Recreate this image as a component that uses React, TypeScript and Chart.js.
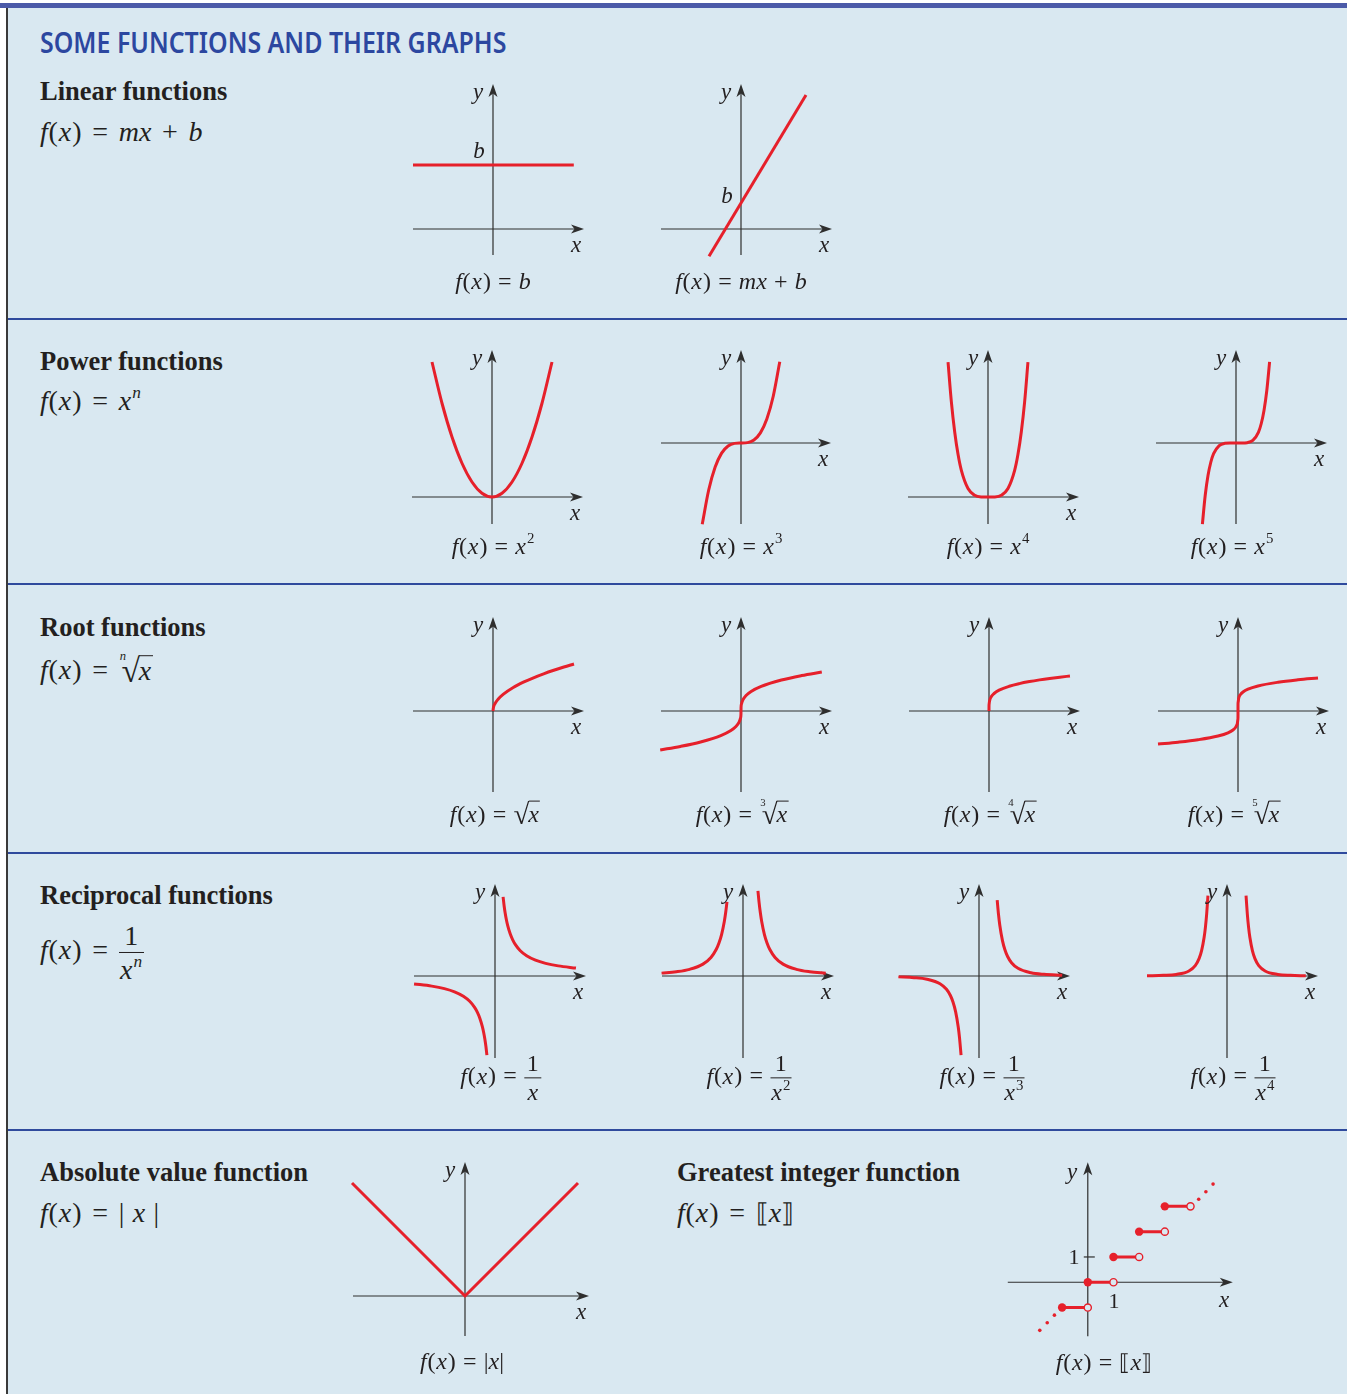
import React, { useEffect, useLayoutEffect, useRef } from 'react';
import { Chart, registerables } from 'chart.js';

Chart.register(...registerables);

const RED = '#e6202b';
const AXIS = '#2e2e2e';
const BG = '#d9e8f1';
const SERIF = '"Liberation Serif", "Times New Roman", serif';
const INK = '#231f20';

// ---------- data (function values) ----------
const LIN_CONST_X = [-2, 2.02];
const LIN_CONST_Y = [1.6, 1.6];
const LIN_SLOPE_X = [-0.8, 1.625];
const LIN_SLOPE_Y = [-0.68, 3.35];

const POW2_X = [-1.5, -1.25, -1, -0.75, -0.5, -0.25, 0, 0.25, 0.5, 0.75, 1, 1.25, 1.5];
const POW2_Y = [2.25, 1.5625, 1, 0.5625, 0.25, 0.0625, 0, 0.0625, 0.25, 0.5625, 1, 1.5625, 2.25];
const POW3_X = [-1.2, -1, -0.8, -0.6, -0.4, -0.2, 0, 0.2, 0.4, 0.6, 0.8, 1, 1.2];
const POW3_Y = [-1.728, -1, -0.512, -0.216, -0.064, -0.008, 0, 0.008, 0.064, 0.216, 0.512, 1, 1.728];
const POW4_X = [-1.2, -1.1, -1, -0.9, -0.8, -0.6, -0.4, -0.2, 0, 0.2, 0.4, 0.6, 0.8, 0.9, 1, 1.1, 1.2];
const POW4_Y = [2.0736, 1.4641, 1, 0.6561, 0.4096, 0.1296, 0.0256, 0.0016, 0, 0.0016, 0.0256, 0.1296, 0.4096, 0.6561, 1, 1.4641, 2.0736];
const POW5_X = [-1.2, -1.1, -1, -0.9, -0.8, -0.6, -0.4, -0.2, 0, 0.2, 0.4, 0.6, 0.8, 0.9, 1, 1.1, 1.2];
const POW5_Y = [-2.48832, -1.61051, -1, -0.59049, -0.32768, -0.07776, -0.01024, -0.00032, 0, 0.00032, 0.01024, 0.07776, 0.32768, 0.59049, 1, 1.61051, 2.48832];

const ROOT2_X = [0, 0.02, 0.1, 0.25, 0.5, 1, 1.5, 2, 2.5, 3, 3.5, 4];
const ROOT2_Y = [0, 0.1414, 0.3162, 0.5, 0.7071, 1, 1.2247, 1.4142, 1.5811, 1.7321, 1.8708, 2];
const ROOT3_X = [-8, -6, -4, -2, -1, -0.5, -0.2, -0.05, -0.005, 0, 0.005, 0.05, 0.2, 0.5, 1, 2, 4, 6, 8];
const ROOT3_Y = [-2, -1.8171, -1.5874, -1.2599, -1, -0.7937, -0.5848, -0.3684, -0.171, 0, 0.171, 0.3684, 0.5848, 0.7937, 1, 1.2599, 1.5874, 1.8171, 2];
const ROOT4_X = [0, 0.002, 0.02, 0.1, 0.5, 1, 2, 4, 6, 8, 10, 12, 14, 16];
const ROOT4_Y = [0, 0.2115, 0.3761, 0.5623, 0.8409, 1, 1.1892, 1.4142, 1.5651, 1.6818, 1.7783, 1.8612, 1.9343, 2];
const ROOT5_X = [-32, -24, -16, -8, -4, -2, -1, -0.3, -0.03, -0.001, 0, 0.001, 0.03, 0.3, 1, 2, 4, 8, 16, 24, 32];
const ROOT5_Y = [-2, -1.888, -1.7411, -1.5157, -1.3195, -1.1487, -1, -0.786, -0.4959, -0.2512, 0, 0.2512, 0.4959, 0.786, 1, 1.1487, 1.3195, 1.5157, 1.7411, 1.888, 2];

const REC1_XR = [0.32, 0.36, 0.4, 0.45, 0.5, 0.6, 0.7, 0.8, 1, 1.25, 1.6, 2, 2.5, 3.2];
const REC1_YR = [3.125, 2.778, 2.5, 2.222, 2, 1.667, 1.429, 1.25, 1, 0.8, 0.625, 0.5, 0.4, 0.3125];
const REC1_XL = [-3.2, -2.5, -2, -1.6, -1.25, -1, -0.8, -0.7, -0.6, -0.5, -0.45, -0.4, -0.36, -0.32];
const REC1_YL = [-0.3125, -0.4, -0.5, -0.625, -0.8, -1, -1.25, -1.429, -1.667, -2, -2.222, -2.5, -2.778, -3.125];
const REC2_XR = [0.56, 0.6, 0.65, 0.7, 0.8, 0.9, 1, 1.2, 1.5, 2, 2.5, 3.1];
const REC2_YR = [3.189, 2.778, 2.367, 2.041, 1.5625, 1.2346, 1, 0.6944, 0.4444, 0.25, 0.16, 0.1041];
const REC2_XL = [-3.05, -2.5, -2, -1.5, -1.2, -1, -0.9, -0.8, -0.7, -0.65, -0.6];
const REC2_YL = [0.1075, 0.16, 0.25, 0.4444, 0.6944, 1, 1.2346, 1.5625, 2.041, 2.367, 2.778];
const REC3_XR = [0.7, 0.75, 0.8, 0.9, 1, 1.1, 1.25, 1.5, 2, 2.5, 3.2];
const REC3_YR = [2.915, 2.37, 1.953, 1.372, 1, 0.7513, 0.512, 0.2963, 0.125, 0.064, 0.0305];
const REC3_XL = [-3.1, -2.5, -2, -1.5, -1.25, -1.1, -1, -0.9, -0.8, -0.75, -0.69];
const REC3_YL = [-0.0336, -0.064, -0.125, -0.2963, -0.512, -0.7513, -1, -1.372, -1.953, -2.37, -3.044];
const REC4_XR = [0.75, 0.8, 0.85, 0.9, 1, 1.1, 1.25, 1.5, 2, 2.5, 3.1];
const REC4_YR = [3.1605, 2.4414, 1.9148, 1.5242, 1, 0.683, 0.4096, 0.1975, 0.0625, 0.0256, 0.0108];
const REC4_XL = [-3.15, -2.5, -2, -1.5, -1.25, -1.1, -1, -0.9, -0.85, -0.8, -0.75];
const REC4_YL = [0.0102, 0.0256, 0.0625, 0.1975, 0.4096, 0.683, 1, 1.5242, 1.9148, 2.4414, 3.1605];

const ABS_X = [-2, 0, 2];
const ABS_Y = [2, 0, 2];

const GIF_SEG_START = [-1, 0, 1, 2, 3];
const GIF_SEG_END = [0, 1, 2, 3, 4];
const GIF_SEG_VAL = [-1, 0, 1, 2, 3];
const GIF_DOTS_X = [-1.87, -1.58, -1.3, 4.32, 4.6, 4.88];
const GIF_DOTS_Y = [-1.9, -1.6, -1.3, 3.28, 3.58, 3.88];
const GIF_Y_TICKS = [1];

// ---------- chart helpers ----------
type Series = { xs: number[]; ys: number[]; smooth?: boolean };
interface GraphSpec {
  id: string;
  ox: number; oy: number; ux: number; uy: number;
  xl: number; xr: number; yt: number; yb: number;
  series: Series[];
  yTicks?: number[];
  extra?: any[];
}

const axesPlugin = {
  id: 'axesArrows',
  beforeDatasetsDraw(chart: any, _a: any, opts: any) {
    const ctx = chart.ctx as CanvasRenderingContext2D;
    const x0 = chart.scales.x.getPixelForValue(0);
    const y0 = chart.scales.y.getPixelForValue(0);
    ctx.save();
    ctx.strokeStyle = AXIS;
    ctx.fillStyle = AXIS;
    ctx.lineWidth = 1.2;
    const xt = x0 + opts.xr;
    ctx.beginPath(); ctx.moveTo(x0 - opts.xl, y0); ctx.lineTo(xt - 8, y0); ctx.stroke();
    ctx.beginPath(); ctx.moveTo(xt, y0); ctx.lineTo(xt - 13, y0 - 4.5); ctx.lineTo(xt - 9.5, y0); ctx.lineTo(xt - 13, y0 + 4.5); ctx.closePath(); ctx.fill();
    const yt = y0 - opts.yt;
    ctx.beginPath(); ctx.moveTo(x0, y0 + opts.yb); ctx.lineTo(x0, yt + 8); ctx.stroke();
    ctx.beginPath(); ctx.moveTo(x0, yt); ctx.lineTo(x0 - 4.5, yt + 13); ctx.lineTo(x0, yt + 9.5); ctx.lineTo(x0 + 4.5, yt + 13); ctx.closePath(); ctx.fill();
    (opts.yTicks || []).forEach((t: number) => {
      const py = chart.scales.y.getPixelForValue(t);
      ctx.beginPath(); ctx.moveTo(x0 - 4, py); ctx.lineTo(x0 + 7, py); ctx.stroke();
    });
    ctx.restore();
  },
};

function Graph({ g }: { g: GraphSpec }) {
  const ref = useRef<HTMLCanvasElement>(null);
  const padL = g.xl + 40, padR = g.xr + 16, padT = g.yt + 16, padB = g.yb + 16;
  const W = padL + padR, H = padT + padB;
  useEffect(() => {
    const datasets: any[] = [
      ...(g.extra || []),
      ...g.series.map((s) => ({
        data: s.xs.map((x, i) => ({ x, y: s.ys[i] })),
        showLine: true,
        borderColor: RED,
        borderWidth: 3,
        pointRadius: 0,
        fill: false,
        tension: 0,
        cubicInterpolationMode: s.smooth ? 'monotone' : 'default',
        borderJoinStyle: 'round',
      })),
    ];
    const chart = new Chart(ref.current!, {
      type: 'scatter',
      data: { datasets },
      options: {
        responsive: false,
        animation: false,
        events: [],
        layout: { padding: 0 },
        plugins: {
          legend: { display: false },
          tooltip: { enabled: false },
          axesArrows: { xl: g.xl, xr: g.xr, yt: g.yt, yb: g.yb, yTicks: g.yTicks || [] },
        } as any,
        scales: {
          x: { type: 'linear', display: false, min: -padL / g.ux, max: padR / g.ux },
          y: { type: 'linear', display: false, min: -padB / g.uy, max: padT / g.uy },
        },
      },
      plugins: [axesPlugin as any],
    });
    return () => chart.destroy();
  }, []);
  return (
    <canvas
      ref={ref}
      width={W}
      height={H}
      style={{ position: 'absolute', left: g.ox - padL, top: g.oy - padT, width: W, height: H }}
    />
  );
}

const S = (xs: number[], ys: number[], smooth = true): Series => ({ xs, ys, smooth });

const GRAPHS: GraphSpec[] = [
  { id: 'lin0', ox: 493, oy: 229, ux: 40, uy: 40, xl: 80, xr: 91, yt: 145, yb: 26, series: [S(LIN_CONST_X, LIN_CONST_Y, false)] },
  { id: 'lin1', ox: 741, oy: 229, ux: 40, uy: 40, xl: 80, xr: 91, yt: 145, yb: 26, series: [S(LIN_SLOPE_X, LIN_SLOPE_Y, false)] },
  { id: 'pow2', ox: 492, oy: 497, ux: 40, uy: 60, xl: 80, xr: 91, yt: 147, yb: 27, series: [S(POW2_X, POW2_Y)] },
  { id: 'pow3', ox: 741, oy: 443, ux: 32.3, uy: 47, xl: 80, xr: 90, yt: 93, yb: 81, series: [S(POW3_X, POW3_Y)] },
  { id: 'pow4', ox: 988, oy: 497, ux: 33.3, uy: 65, xl: 80, xr: 91, yt: 147, yb: 27, series: [S(POW4_X, POW4_Y)] },
  { id: 'pow5', ox: 1236, oy: 443, ux: 28, uy: 32.6, xl: 80, xr: 91, yt: 93, yb: 81, series: [S(POW5_X, POW5_Y)] },
  { id: 'root2', ox: 493, oy: 711, ux: 20.25, uy: 23.5, xl: 80, xr: 91, yt: 94, yb: 81, series: [S(ROOT2_X, ROOT2_Y)] },
  { id: 'root3', ox: 741, oy: 711, ux: 10.1, uy: 19.5, xl: 80, xr: 91, yt: 94, yb: 81, series: [S(ROOT3_X, ROOT3_Y)] },
  { id: 'root4', ox: 989, oy: 711, ux: 5.06, uy: 17.5, xl: 80, xr: 91, yt: 94, yb: 81, series: [S(ROOT4_X, ROOT4_Y)] },
  { id: 'root5', ox: 1238, oy: 711, ux: 2.5, uy: 16.5, xl: 80, xr: 91, yt: 94, yb: 81, series: [S(ROOT5_X, ROOT5_Y)] },
  { id: 'rec1', ox: 495, oy: 976, ux: 25.3, uy: 25.3, xl: 81, xr: 91, yt: 92, yb: 82, series: [S(REC1_XR, REC1_YR), S(REC1_XL, REC1_YL)] },
  { id: 'rec2', ox: 743, oy: 976, ux: 26.7, uy: 26.7, xl: 81, xr: 91, yt: 92, yb: 82, series: [S(REC2_XR, REC2_YR), S(REC2_XL, REC2_YL)] },
  { id: 'rec3', ox: 979, oy: 976, ux: 26, uy: 26, xl: 80, xr: 91, yt: 92, yb: 82, series: [S(REC3_XR, REC3_YR), S(REC3_XL, REC3_YL)] },
  { id: 'rec4', ox: 1227, oy: 976, ux: 25.4, uy: 25.4, xl: 80, xr: 91, yt: 92, yb: 82, series: [S(REC4_XR, REC4_YR), S(REC4_XL, REC4_YL)] },
  { id: 'abs', ox: 465, oy: 1296, ux: 56.5, uy: 56.5, xl: 112, xr: 124, yt: 134, yb: 40, series: [S(ABS_X, ABS_Y, false)] },
  {
    id: 'gif', ox: 1087, oy: 1284, ux: 26.7, uy: 26.7, xl: 80, xr: 145, yt: 120, yb: 54, series: [], yTicks: GIF_Y_TICKS,
    extra: [
      {
        data: GIF_SEG_END.map((x, i) => ({ x, y: GIF_SEG_VAL[i] })),
        showLine: false, pointRadius: 3.6, pointBackgroundColor: BG, pointBorderColor: RED, pointBorderWidth: 1.4,
      },
      {
        data: GIF_SEG_START.map((x, i) => ({ x, y: GIF_SEG_VAL[i] })),
        showLine: false, pointRadius: 4.2, pointBackgroundColor: RED, pointBorderColor: RED, pointBorderWidth: 0,
      },
      {
        data: GIF_DOTS_X.map((x, i) => ({ x, y: GIF_DOTS_Y[i] })),
        showLine: false, pointRadius: 1.8, pointBackgroundColor: RED, pointBorderColor: RED, pointBorderWidth: 0,
      },
      ...GIF_SEG_START.map((s, i) => ({
        data: [{ x: s, y: GIF_SEG_VAL[i] }, { x: GIF_SEG_END[i], y: GIF_SEG_VAL[i] }],
        showLine: true, borderColor: RED, borderWidth: 3, pointRadius: 0,
      })),
    ],
  },
];

// ---------- text helpers ----------
const Fx = () => (<><i>f</i><span style={{ margin: '0 0.03em' }}>(</span><i>x</i><span style={{ marginLeft: '0.04em' }}>)</span></>);
const Op = ({ c, m = '0.38em' }: { c: string; m?: string }) => <span style={{ margin: `0 ${m}` }}>{c}</span>;
const Sup = ({ children }: { children: any }) => (
  <span style={{ fontSize: '0.62em', position: 'relative', top: '-0.72em', marginLeft: '0.06em' }}>{children}</span>
);
const Frac = ({ num, den }: { num: any; den: any }) => (
  <span style={{ display: 'inline-flex', flexDirection: 'column', alignItems: 'center', verticalAlign: 'middle', lineHeight: 1 }}>
    <span style={{ padding: '0 0.12em 0.08em' }}>{num}</span>
    <span style={{ borderTop: '1.3px solid ' + INK, alignSelf: 'stretch', textAlign: 'center', padding: '0.1em 0.05em 0' }}>{den}</span>
  </span>
);
const Root = ({ idx, children }: { idx?: any; children: any }) => (
  <span style={{ position: 'relative', display: 'inline-block', paddingLeft: idx ? '0.1em' : 0 }}>
    {idx ? <span style={{ position: 'absolute', fontSize: '0.45em', left: '0.08em', top: '-0.12em' }}>{idx}</span> : null}
    <span style={{ display: 'inline-block', fontSize: '1.2em', position: 'relative', top: '0.08em', lineHeight: 1 }}>√</span>
    <span style={{ display: 'inline-block', position: 'relative', borderTop: '1.2px solid ' + INK, lineHeight: 1, marginLeft: '-0.04em', paddingTop: '0.02em', paddingRight: '0.05em', top: '0.02em' }}>{children}</span>
  </span>
);
const DBL = { fontFamily: '"DejaVu Serif", serif', fontSize: '0.92em' };

const Txt = ({ x, y, size, children, bold, center = true }: any) => (
  <div
    style={{
      position: 'absolute', left: x, top: y, fontSize: size, lineHeight: 1, whiteSpace: 'nowrap',
      fontWeight: bold ? 700 : 400, transform: center ? 'translate(-50%,-50%)' : 'translateY(-50%)',
    }}
  >
    {children}
  </div>
);

export default function App() {
  const titleRef = useRef<HTMLSpanElement>(null);
  useLayoutEffect(() => {
    const el = titleRef.current;
    if (!el) return;
    const w = el.offsetWidth;
    if (w > 0) el.style.transform = `scaleX(${466 / w})`;
  }, []);

  const SEP_Y = [318, 583, 852, 1129];
  const capSize = 24;
  const hSize = 26.5;
  const fSize = 28;
  const cm = '0.3em';

  return (
    <div
      style={{
        position: 'absolute', left: 0, top: 0, width: 1347, height: 1394, overflow: 'hidden',
        background: '#ffffff', fontFamily: SERIF, color: INK,
      }}
    >
      <div style={{ position: 'absolute', left: 0, top: 3, width: 1347, height: 5, background: '#4b5aa8' }} />
      <div style={{ position: 'absolute', left: 8, top: 8, right: 0, bottom: 0, background: BG }} />
      <div style={{ position: 'absolute', left: 6, top: 8, width: 1.6, height: 1386, background: '#3a3a3a' }} />
      {SEP_Y.map((y) => (
        <div key={y} style={{ position: 'absolute', left: 8, top: y, width: 1339, height: 2.4, background: '#2f4a9d' }} />
      ))}

      <span
        ref={titleRef}
        style={{
          position: 'absolute', left: 40, top: 26, display: 'inline-block', transformOrigin: 'left center',
          fontFamily: '"Noto Sans", "Open Sans", sans-serif', fontWeight: 600, fontSize: 29, lineHeight: 1.1,
          color: '#2c47a0', whiteSpace: 'nowrap',
        }}
      >
        SOME FUNCTIONS AND THEIR GRAPHS
      </span>

      {/* headings */}
      <Txt x={40} y={91} size={hSize} bold center={false}>Linear functions</Txt>
      <Txt x={40} y={132} size={fSize} center={false}><Fx /><Op c="=" /><i>mx</i><Op c="+" /><i>b</i></Txt>
      <Txt x={40} y={361} size={hSize} bold center={false}>Power functions</Txt>
      <Txt x={40} y={401} size={fSize} center={false}><Fx /><Op c="=" /><i>x</i><Sup><i>n</i></Sup></Txt>
      <Txt x={40} y={627} size={hSize} bold center={false}>Root functions</Txt>
      <Txt x={40} y={668} size={fSize} center={false}><Fx /><Op c="=" /><Root idx={<i>n</i>}><i>x</i></Root></Txt>
      <Txt x={40} y={895} size={hSize} bold center={false}>Reciprocal functions</Txt>
      <Txt x={40} y={953} size={fSize} center={false}><Fx /><Op c="=" /><Frac num="1" den={<><i>x</i><Sup><i>n</i></Sup></>} /></Txt>
      <Txt x={40} y={1172} size={hSize} bold center={false}>Absolute value function</Txt>
      <Txt x={40} y={1213} size={fSize} center={false}><Fx /><Op c="=" />|<span style={{ margin: '0 0.3em' }}><i>x</i></span>|</Txt>
      <Txt x={677} y={1172} size={hSize} bold center={false}>Greatest integer function</Txt>
      <Txt x={677} y={1213} size={fSize} center={false}><Fx /><Op c="=" /><span style={DBL}>⟦</span><i>x</i><span style={DBL}>⟧</span></Txt>

      {/* graphs */}
      {GRAPHS.map((g) => <Graph key={g.id} g={g} />)}

      {/* axis labels */}
      {GRAPHS.map((g) => (
        <React.Fragment key={g.id + 'l'}>
          <Txt x={g.ox - 15} y={g.oy - g.yt + 7} size={23}><i>y</i></Txt>
          <Txt x={g.ox + g.xr - 8} y={g.oy + 15} size={23}><i>x</i></Txt>
        </React.Fragment>
      ))}
      <Txt x={479} y={150} size={23}><i>b</i></Txt>
      <Txt x={727} y={195} size={23}><i>b</i></Txt>
      <Txt x={1074} y={1257} size={22}>1</Txt>
      <Txt x={1114} y={1301} size={22}>1</Txt>

      {/* captions */}
      <Txt x={493} y={281} size={capSize}><Fx /><Op c="=" m={cm} /><i>b</i></Txt>
      <Txt x={741} y={281} size={capSize}><Fx /><Op c="=" m={cm} /><i>mx</i><Op c="+" m={cm} /><i>b</i></Txt>

      <Txt x={493} y={546} size={capSize}><Fx /><Op c="=" m={cm} /><i>x</i><Sup>2</Sup></Txt>
      <Txt x={741} y={546} size={capSize}><Fx /><Op c="=" m={cm} /><i>x</i><Sup>3</Sup></Txt>
      <Txt x={988} y={546} size={capSize}><Fx /><Op c="=" m={cm} /><i>x</i><Sup>4</Sup></Txt>
      <Txt x={1232} y={546} size={capSize}><Fx /><Op c="=" m={cm} /><i>x</i><Sup>5</Sup></Txt>

      <Txt x={495} y={812} size={capSize}><Fx /><Op c="=" m={cm} /><Root><i>x</i></Root></Txt>
      <Txt x={742} y={812} size={capSize}><Fx /><Op c="=" m={cm} /><Root idx="3"><i>x</i></Root></Txt>
      <Txt x={990} y={812} size={capSize}><Fx /><Op c="=" m={cm} /><Root idx="4"><i>x</i></Root></Txt>
      <Txt x={1234} y={812} size={capSize}><Fx /><Op c="=" m={cm} /><Root idx="5"><i>x</i></Root></Txt>

      <Txt x={501} y={1078} size={capSize}><Fx /><Op c="=" m={cm} /><Frac num="1" den={<i>x</i>} /></Txt>
      <Txt x={749} y={1078} size={capSize}><Fx /><Op c="=" m={cm} /><Frac num="1" den={<><i>x</i><Sup>2</Sup></>} /></Txt>
      <Txt x={982} y={1078} size={capSize}><Fx /><Op c="=" m={cm} /><Frac num="1" den={<><i>x</i><Sup>3</Sup></>} /></Txt>
      <Txt x={1233} y={1078} size={capSize}><Fx /><Op c="=" m={cm} /><Frac num="1" den={<><i>x</i><Sup>4</Sup></>} /></Txt>

      <Txt x={462} y={1361} size={capSize}><Fx /><Op c="=" m={cm} />|<i>x</i>|</Txt>
      <Txt x={1104} y={1362} size={capSize}><Fx /><Op c="=" m={cm} /><span style={DBL}>⟦</span><i>x</i><span style={DBL}>⟧</span></Txt>
    </div>
  );
}
